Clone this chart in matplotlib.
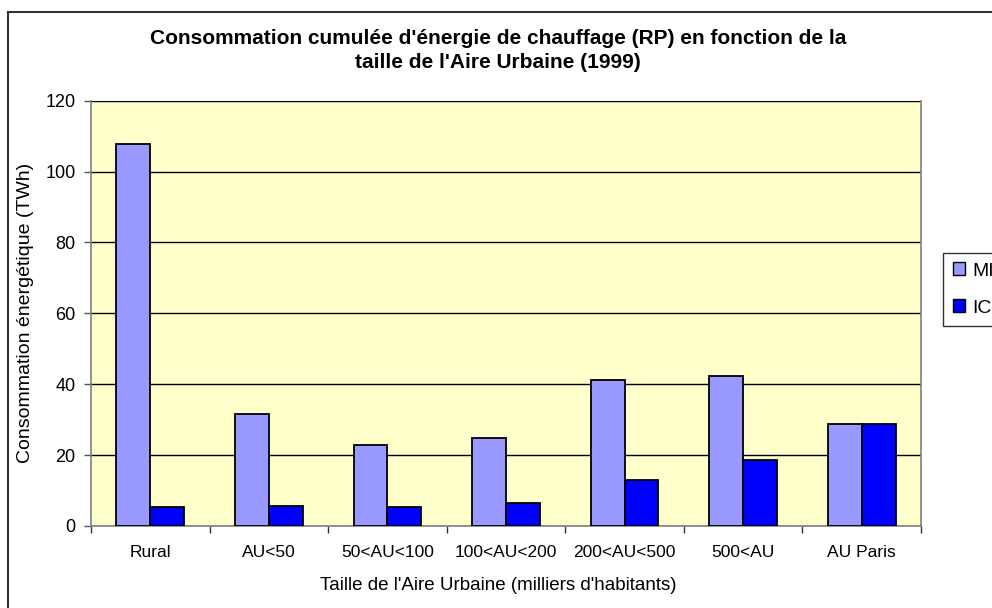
import numpy as np
import matplotlib
matplotlib.use("Agg")
import matplotlib.pyplot as plt
from matplotlib.patches import Patch
from matplotlib.lines import Line2D

plt.rcParams["font.family"] = ["Liberation Sans", "DejaVu Sans"]

# Data
categories = ["Rural", "AU<50", "50<AU<100", "100<AU<200", "200<AU<500", "500<AU", "AU Paris"]
mi_values = [107.9, 31.7, 22.9, 24.9, 41.3, 42.3, 28.9]
ic_values = [5.3, 5.6, 5.4, 6.6, 12.9, 18.7, 28.9]
series_names = ["MI", "IC"]
y_ticks = [0, 20, 40, 60, 80, 100, 120]

W, H = 992, 608
fig = plt.figure(figsize=(W / 100, H / 100), dpi=100)
fig.patch.set_facecolor("white")

# plot area in pixels
left, right, top, bottom = 91, 921, 100.7, 526
ax = fig.add_axes([left / W, 1 - bottom / H, (right - left) / W, (bottom - top) / H])
ax.set_facecolor("#FFFFCC")

x = np.arange(len(categories))
bw = 1 / 3.5
ax.bar(x - bw / 2, mi_values, bw, color="#9999FF", edgecolor="black", linewidth=1.3, zorder=3)
ax.bar(x + bw / 2, ic_values, bw, color="#0000FF", edgecolor="black", linewidth=1.3, zorder=3)

ax.set_xlim(-0.5, len(categories) - 0.5)
ax.set_ylim(0, 120)
ax.set_yticks(y_ticks)
ax.set_yticklabels([str(v) for v in y_ticks], fontsize=13)
ax.yaxis.grid(True, color="black", linewidth=1, zorder=1)
ax.tick_params(axis="y", length=5, width=1, color="#555555", pad=6)

# category boundaries as major ticks, labels on minor ticks
ax.set_xticks(np.arange(-0.5, len(categories), 1))
ax.set_xticklabels([])
ax.set_xticks(x, minor=True)
ax.set_xticklabels(categories, minor=True, fontsize=12.5)
ax.tick_params(axis="x", which="major", length=5, width=1, color="#333333")
ax.tick_params(axis="x", which="minor", length=0, pad=14)

for side in ["left", "right", "bottom"]:
    ax.spines[side].set_color("#808080")
    ax.spines[side].set_linewidth(1.2)
ax.spines["top"].set_visible(False)

ax.set_ylabel("Consommation énergétique (TWh)", fontsize=14, labelpad=8)
fig.text(498 / W, 1 - 585 / H, "Taille de l'Aire Urbaine (milliers d'habitants)",
         ha="center", va="center", fontsize=13.5)

fig.text(498 / W, 1 - 38 / H, "Consommation cumulée d'énergie de chauffage (RP) en fonction de la",
         ha="center", va="center", fontsize=15, fontweight="bold")
fig.text(498 / W, 1 - 62 / H, "taille de l'Aire Urbaine (1999)",
         ha="center", va="center", fontsize=15, fontweight="bold")

handles = [Patch(facecolor="#9999FF", edgecolor="black", linewidth=1),
           Patch(facecolor="#0000FF", edgecolor="black", linewidth=1)]
leg = fig.legend(handles, series_names, loc="upper left", bbox_to_anchor=(943 / W, 1 - 252.7 / H),
                 borderaxespad=0, fancybox=False, frameon=True, fontsize=14,
                 handlelength=0.65, handleheight=0.65, handletextpad=0.35,
                 labelspacing=1.0, borderpad=0.5)
leg.get_frame().set_edgecolor("black")
leg.get_frame().set_linewidth(1)

# outer chart border (top and left visible, rest clipped)
fig.add_artist(Line2D([8 / W, 1.01], [1 - 12 / H, 1 - 12 / H], transform=fig.transFigure, color="#333333", linewidth=1.5))
fig.add_artist(Line2D([8 / W, 8 / W], [1 - 12 / H, -0.01], transform=fig.transFigure, color="#333333", linewidth=1.5))

fig.savefig("out.png", dpi=100)
